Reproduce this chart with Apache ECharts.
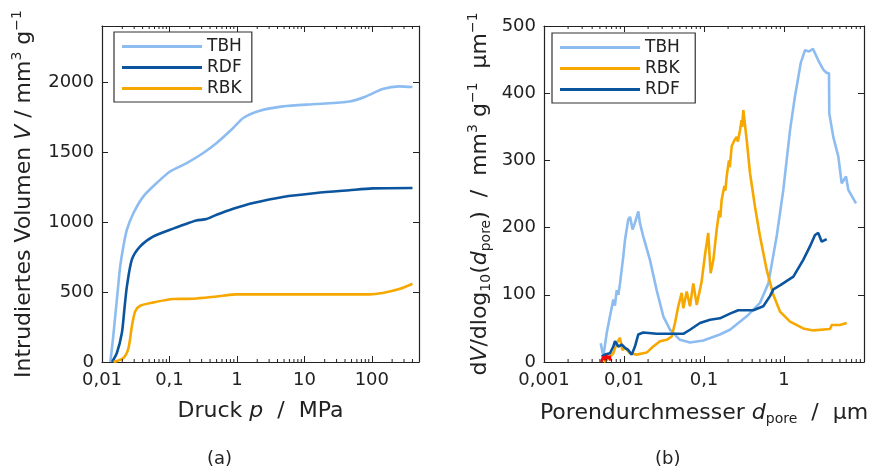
<!DOCTYPE html>
<html>
<head>
<meta charset="utf-8">
<script src="https://cdn.jsdelivr.net/npm/echarts@6/dist/echarts.min.js"></script>
<style>html,body{margin:0;padding:0;background:#fff}#c{width:884px;height:474px}</style>
</head>
<body>
<div id="c"></div>
<script>
// ---------- Panel (a): intruded volume vs. pressure ----------
const tbhP = [0.0133,0.0145,0.0157,0.0172,0.0186,0.021,0.0234,0.0293,0.0411,0.0649,0.102,0.18,0.317,0.5,0.88,1.24,2.19,4.8,15,46.5,82,144,255,400];
const tbhV = [0,160,326,520,683,840,945,1064,1183,1279,1361,1421,1493,1564,1671,1743,1795,1826,1843,1861,1897,1950,1969,1964];
const rdfP = [0.0141,0.0166,0.0197,0.0215,0.0234,0.0277,0.0368,0.0578,0.102,0.18,0.25,0.355,0.5,0.88,1.74,4.8,15,46.5,102,400];
const rdfV = [0,64,207,380,540,731,826,897,945,988,1011,1021,1052,1095,1136,1179,1207,1227,1240,1243];
const rbkP = [0.0148,0.0208,0.0247,0.0277,0.031,0.0368,0.0578,0.114,0.226,0.5,1.0,2.7,92,144,255,400];
const rbkV = [0,29,100,254,361,402,426,450,452,468,483,483,483,493,521,559];

// ---------- Panel (b): pore size distribution ----------
const tbhD = [0.00512,0.00551,0.00608,0.00668,0.00735,0.0077,0.00811,0.0085,0.00891,0.00935,0.0098,0.0103,0.0113,0.0119,0.0128,0.0137,0.0151,0.0158,0.0174,0.0211,0.0256,0.031,0.0376,0.0501,0.0668,0.098,0.158,0.211,0.342,0.501,0.637,0.81,0.98,1.19,1.37,1.62,1.83,2.05,2.30,2.68,3.10,3.42,3.65,3.68,4.13,4.77,5.26,5.96,6.37,7.94];
const tbhQ = [28,8,43,68,93,84,107,100,117,137,157,182,212,216,197,207,224,207,187,152,107,68,48,33,29,32,41,48,68,88,117,187,256,345,395,445,464,462,466,449,435,430,430,370,335,306,266,276,256,236];
const rbkD = [0.0056,0.00608,0.00735,0.00811,0.00891,0.00952,0.0103,0.0119,0.0144,0.0192,0.0232,0.0282,0.0342,0.0395,0.0434,0.0477,0.0526,0.0551,0.0608,0.0668,0.0735,0.0811,0.0935,0.103,0.113,0.121,0.131,0.144,0.155,0.16,0.166,0.18,0.185,0.192,0.205,0.21,0.222,0.24,0.256,0.265,0.282,0.295,0.3,0.31,0.342,0.376,0.434,0.501,0.608,0.735,0.891,1.19,1.74,2.32,3.76,3.95,5.01,6.08];
const rbkQ = [0,3,13,28,36,18,21,13,11,14,23,31,33,38,58,83,103,80,105,83,117,85,120,160,192,132,152,197,225,215,241,262,255,276,300,290,321,330,335,328,345,360,350,375,330,281,231,187,137,100,75,60,50,47,49,55,55,58];
const rdfD = [0.00526,0.00579,0.00668,0.00735,0.00772,0.00849,0.00935,0.0103,0.0113,0.0125,0.0137,0.0151,0.0174,0.0256,0.0413,0.0551,0.0668,0.0891,0.119,0.158,0.211,0.268,0.413,0.551,0.668,0.735,0.891,1.31,1.74,2.11,2.44,2.68,2.96,3.42];
const rdfQ = [8,11,13,23,31,23,26,21,18,11,23,41,44,42,42,42,48,58,63,65,72,77,77,83,98,108,114,127,152,172,189,192,179,183];
const redD = [0.0052,0.0055,0.0058,0.006,0.0063,0.0066,0.0068];
const redQ = [0,8,3,10,5,9,2];

// minor tick positions on the log axes
const minorA = [0.02,0.03,0.04,0.05,0.06,0.07,0.08,0.09,0.2,0.3,0.4,0.5,0.6,0.7,0.8,0.9,2,3,4,5,6,7,8,9,20,30,40,50,60,70,80,90,200,300,400];
const minorB = [0.002,0.003,0.004,0.005,0.006,0.007,0.008,0.009,0.02,0.03,0.04,0.05,0.06,0.07,0.08,0.09,0.2,0.3,0.4,0.5,0.6,0.7,0.8,0.9,2,3,4,5,6,7,8,9];

const C_TBH = '#8dbcf0', C_RDF = '#0b559f', C_RBK = '#f7a800';
const FONT = 'DejaVu Sans';
const zip = (a, b) => a.map((v, i) => [v, b[i]]);
const fmtLog = v => parseFloat(Number(v).toPrecision(4)).toString().replace('.', ',');

function xAxisBase(gi, min, max, bottom) {
  return {
    type: 'log', logBase: 10, gridIndex: gi, min: min, max: max,
    position: bottom ? 'bottom' : 'top',
    axisLine: {show: true, onZero: false, lineStyle: {color: '#222', width: 1.2}},
    axisTick: {show: true, inside: true, length: 6, lineStyle: {color: '#222', width: 1}},
    minorTick: {show: false},
    splitLine: {show: false}, minorSplitLine: {show: false},
    axisLabel: bottom ? {show: true, formatter: fmtLog, fontFamily: FONT, fontSize: 18, color: '#222', margin: 9, showMaxLabel: false, hideOverlap: false} : {show: false}
  };
}
function yAxisBase(gi, max, interval, left) {
  return {
    type: 'value', gridIndex: gi, min: 0, max: max, interval: interval,
    position: left ? 'left' : 'right',
    axisLine: {show: true, onZero: false, lineStyle: {color: '#222', width: 1.2}},
    axisTick: {show: true, inside: true, length: 6, lineStyle: {color: '#222', width: 1}},
    splitLine: {show: false},
    axisLabel: left ? {show: true, formatter: v => String(v), fontFamily: FONT, fontSize: 18, color: '#222', margin: 8, showMaxLabel: max === 500} : {show: false}
  };
}
const rich = {
  n: {fontFamily: FONT, fontSize: 22, color: '#222'},
  i: {fontFamily: FONT, fontSize: 22, fontStyle: 'italic', color: '#222'},
  sup: {fontFamily: FONT, fontSize: 14, color: '#222', padding: [0, 0, 14, 0]},
  sub: {fontFamily: FONT, fontSize: 14, color: '#222', padding: [12, 0, 0, 0]}
};

const xa0 = xAxisBase(0, 0.01, 500, true);
xa0.name = '{n|Druck }{i|p}{n|  /  MPa}';
xa0.nameLocation = 'middle'; xa0.nameGap = 38;
xa0.nameTextStyle = {rich: rich};
const xa2 = xAxisBase(1, 0.001, 10, true);
xa2.name = '{n|Porendurchmesser }{i|d}{sub|pore}{n|  /  µm}';
xa2.nameLocation = 'middle'; xa2.nameGap = 38;
xa2.nameTextStyle = {rich: rich};

const ya0 = yAxisBase(0, 2400, 500, true);
ya0.name = '{n|Intrudiertes Volumen }{i|V}{n| / mm}{sup|3}{n| g}{sup|−1}';
ya0.nameLocation = 'middle'; ya0.nameGap = 64;
ya0.nameTextStyle = {rich: rich};
const ya2 = yAxisBase(1, 500, 100, true);
ya2.name = '{n|d}{i|V}{n|/dlog}{sub|10}{n|(}{i|d}{sub|pore}{n|)  /  mm}{sup|3}{n| g}{sup|−1}{n|  µm}{sup|−1}';
ya2.nameLocation = 'middle'; ya2.nameGap = 50;
ya2.nameTextStyle = {rich: rich};

function line(name, data, color, xi, yi, smooth, z) {
  return {
    name: name, type: 'line', data: data, xAxisIndex: xi, yAxisIndex: yi,
    showSymbol: false, symbol: 'none', smooth: smooth ? 0.25 : false,
    lineStyle: {color: color, width: 2.6}, itemStyle: {color: color}, z: z || 2, animation: false
  };
}
function minorTicks(values, xi, yi, ymax) {
  return {
    type: 'custom', name: 'minor', xAxisIndex: xi, yAxisIndex: yi, silent: true, clip: false, z: 10,
    data: values.map(v => [v, 0]),
    renderItem: function (params, api) {
      const b = api.coord([api.value(0), 0]);
      const t = api.coord([api.value(0), ymax]);
      return {type: 'group', children: [
        {type: 'line', shape: {x1: b[0], y1: b[1], x2: b[0], y2: b[1] - 3}, style: {stroke: '#222', lineWidth: 1}},
        {type: 'line', shape: {x1: t[0], y1: t[1], x2: t[0], y2: t[1] + 3}, style: {stroke: '#222', lineWidth: 1}}
      ]};
    },
    animation: false
  };
}
const legendBase = {
  orient: 'vertical', icon: 'rect', itemWidth: 80, itemHeight: 3, itemGap: 4,
  backgroundColor: '#fff', borderColor: '#333', borderWidth: 1.2, borderRadius: 0,
  padding: [6, 10, 5, 8],
  textStyle: {fontFamily: FONT, fontSize: 17, color: '#222', lineHeight: 17},
  selectedMode: false
};

const option = {
  animation: false,
  grid: [
    {left: 102, top: 26, width: 317, height: 336},
    {left: 544, top: 26, width: 320, height: 336}
  ],
  xAxis: [xa0, xAxisBase(0, 0.01, 500, false), xa2, xAxisBase(1, 0.001, 10, false)],
  yAxis: [ya0, yAxisBase(0, 2400, 500, false), ya2, yAxisBase(1, 500, 100, false)],
  legend: [
    Object.assign({}, legendBase, {left: 114, top: 32, data: ['TBH', 'RDF', 'RBK']}),
    Object.assign({}, legendBase, {left: 552, top: 33, data: ['TBH ', 'RBK ', 'RDF ']})
  ],
  series: [
    line('TBH', zip(tbhP, tbhV), C_TBH, 0, 0, true),
    line('RDF', zip(rdfP, rdfV), C_RDF, 0, 0, true),
    line('RBK', zip(rbkP, rbkV), C_RBK, 0, 0, true),
    line('TBH ', zip(tbhD, tbhQ), C_TBH, 2, 2, false, 2),
    line('RBK ', zip(rbkD, rbkQ), C_RBK, 2, 2, false, 3),
    line('RDF ', zip(rdfD, rdfQ), C_RDF, 2, 2, false, 4),
    line('red', zip(redD, redQ), '#ff0000', 2, 2, false, 5),
    minorTicks(minorA, 0, 0, 2400),
    minorTicks(minorB, 2, 2, 500)
  ],
  graphic: [
    {type: 'text', left: 207, top: 450, style: {text: '(a)', font: '18px "DejaVu Sans"', fill: '#222'}},
    {type: 'text', left: 655, top: 450, style: {text: '(b)', font: '18px "DejaVu Sans"', fill: '#222'}}
  ]
};
const chart = echarts.init(document.getElementById('c'), null, {renderer: 'canvas'});
chart.setOption(option);
</script>
</body>
</html>
